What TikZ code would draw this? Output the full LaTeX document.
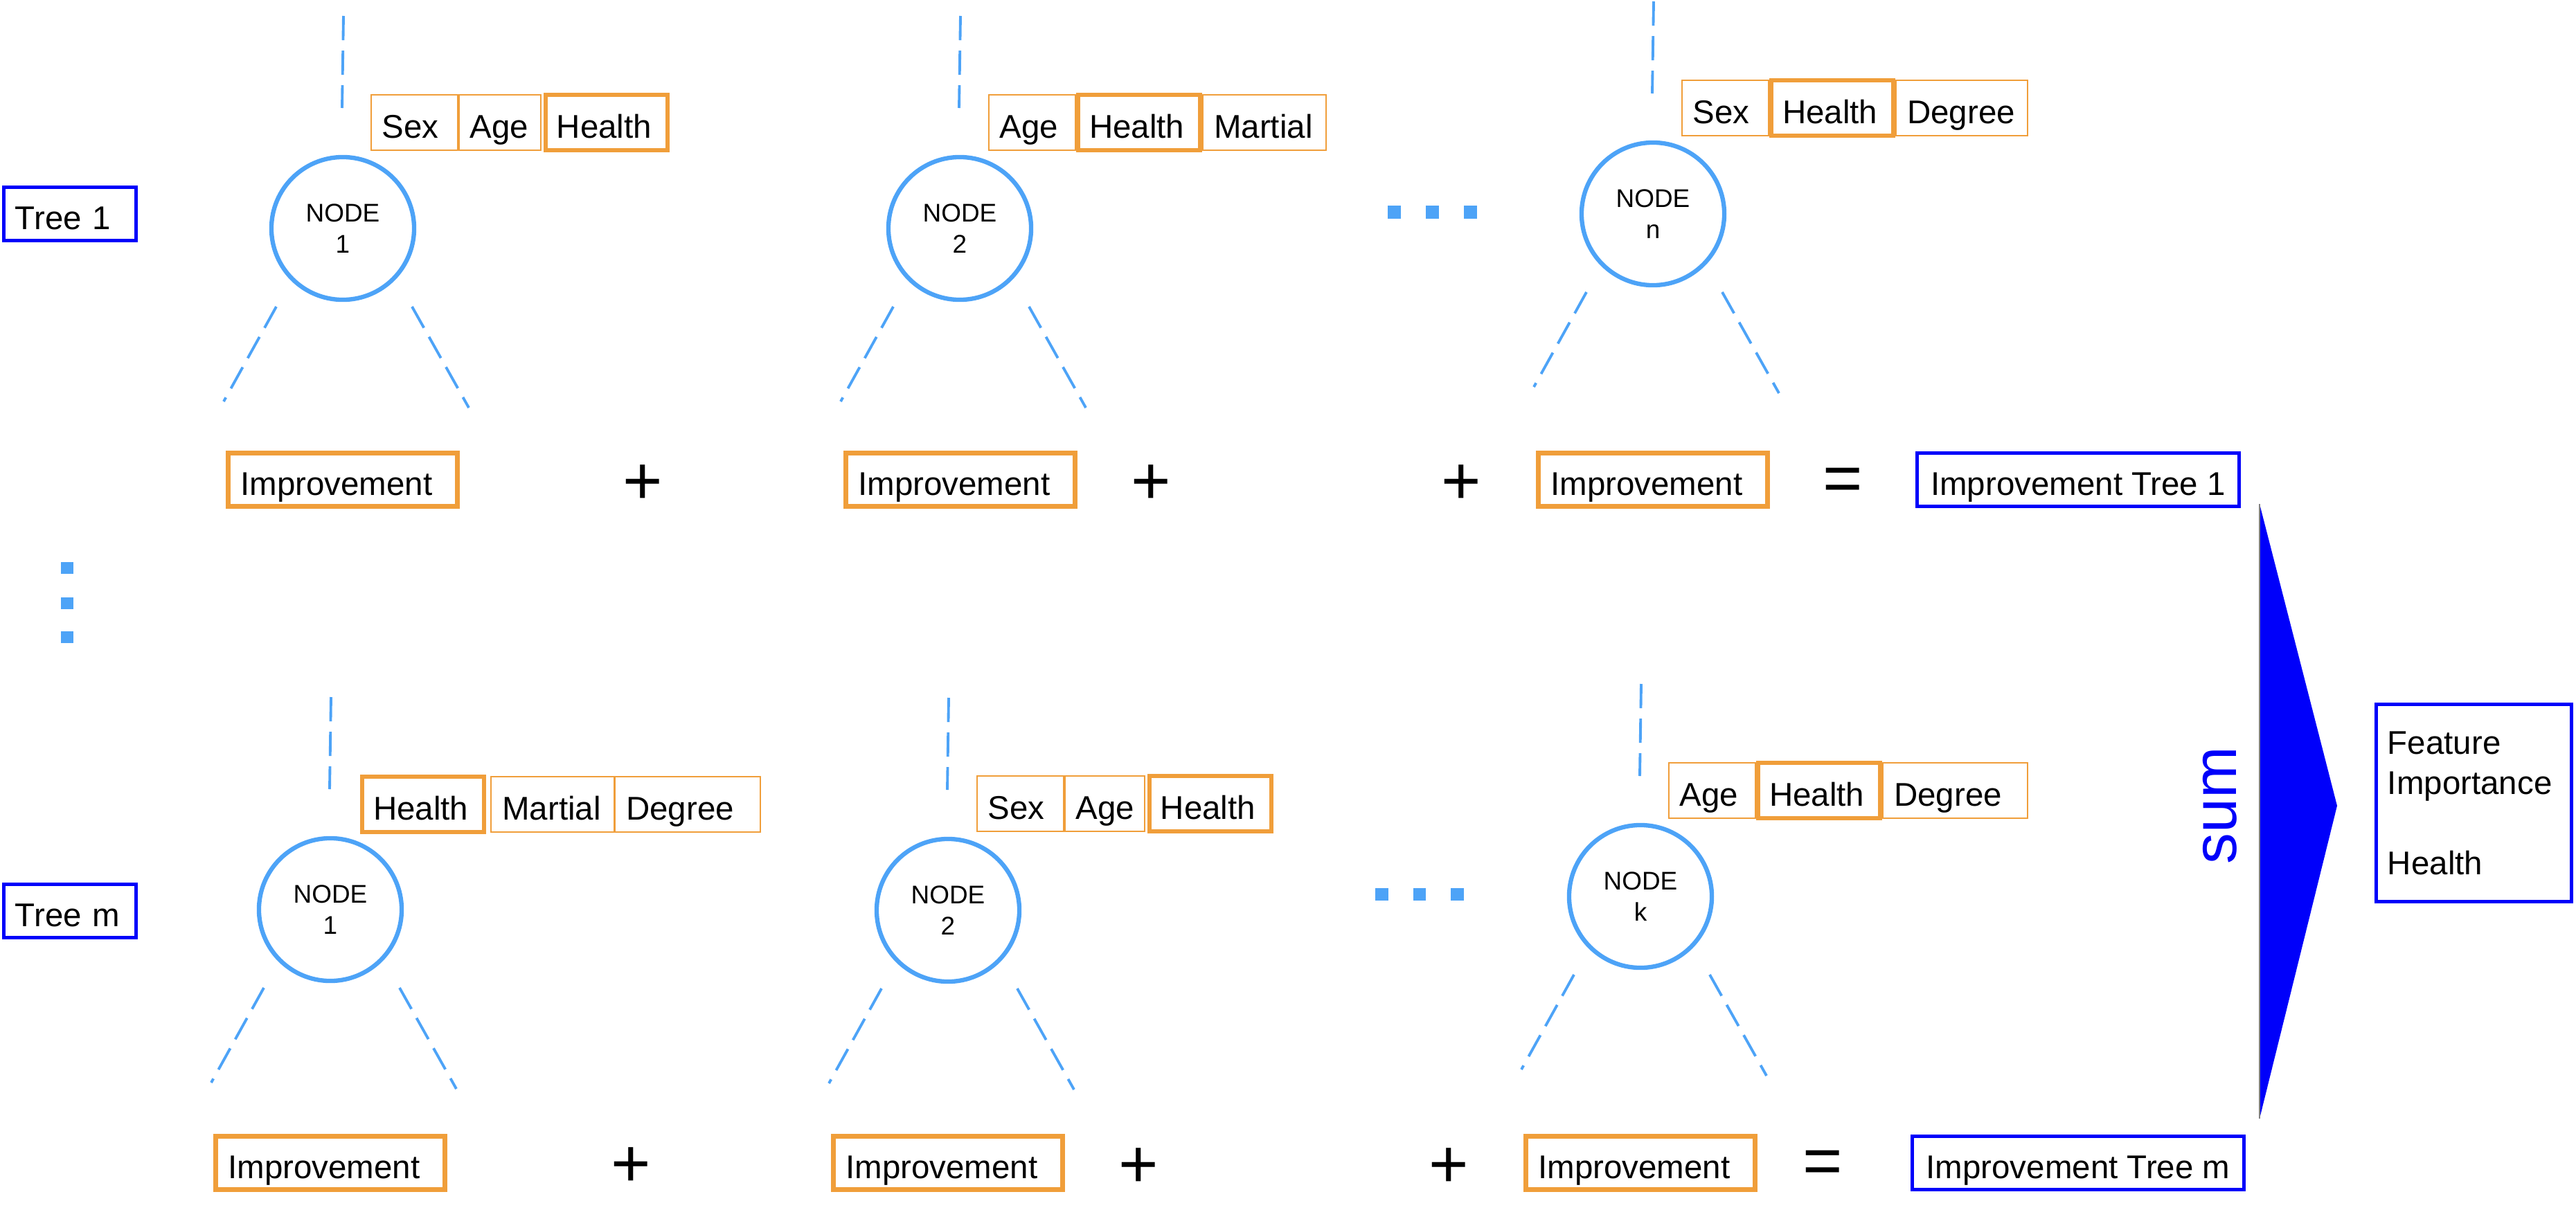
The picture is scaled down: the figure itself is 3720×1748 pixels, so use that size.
\documentclass[tikz,border=0pt]{standalone}
\usepackage{fontspec}
\setmainfont{Liberation Sans}
\usetikzlibrary{positioning}
\definecolor{treeblue}{RGB}{77,163,247}
\definecolor{featorange}{RGB}{240,158,58}
\definecolor{boxblue}{RGB}{0,0,250}
\tikzset{
  treenode/.style={circle, draw=treeblue, line width=1.8pt, minimum size=2.06cm,
    inner sep=0pt, align=center, font=\fontsize{10.5}{12.8}\selectfont},
  branch/.style={treeblue, line width=1.1pt, dash pattern=on 0.35cm off 0.15cm},
  word/.style={font=\fontsize{13.5}{16.5}\selectfont, text height=13pt, text depth=0pt},
  cell/.style={word, draw=featorange, line width=0.5pt, text width=#1, align=left,
    inner xsep=0.16cm, inner ysep=0pt, minimum height=0.8cm},
  pick/.style={cell=#1, line width=1.8pt},
  gain/.style={word, draw=featorange, line width=1.8pt, text width=2.95cm, align=left,
    inner xsep=0.18cm, inner ysep=0pt, minimum height=0.77cm},
  total/.style={word, draw=boxblue, line width=1.45pt, inner xsep=0.2cm,
    inner ysep=0pt, minimum height=0.77cm},
  tag/.style={word, draw=boxblue, line width=1.45pt, text width=1.58cm, align=left,
    inner xsep=0.165cm, inner ysep=0pt, minimum height=0.77cm},
  op/.style={font=\fontsize{28}{30}\selectfont, inner sep=0pt},
  more/.style={fill=treeblue, inner sep=0pt, minimum size=#1}
}
\begin{document}
\begin{tikzpicture}[x=0.01cm, y=-0.01cm]
	\useasboundingbox (0,0) rectangle (3720,1748);
	% tree 1
	\node[tag] (t1lab) at (101,309) {Tree 1};
	\node[treenode] (t1n1) at (495,330) {NODE\\1};
	\node[treenode] (t1n2) at (1386,330) {NODE\\2};
	\node[treenode] (t1nn) at (2387,309) {NODE\\n};
	\draw[branch] (t1n1.center) ++(1,-307) -- ++(-2,133);
	\draw[branch] (t1n1.center) ++(-96,113) -- ++(-76,137);
	\draw[branch] (t1n1.center) ++(100,113) -- ++(82,146);
	\draw[branch] (t1n2.center) ++(1,-307) -- ++(-2,133);
	\draw[branch] (t1n2.center) ++(-96,113) -- ++(-76,137);
	\draw[branch] (t1n2.center) ++(100,113) -- ++(82,146);
	\draw[branch] (t1nn.center) ++(1,-307) -- ++(-2,133);
	\draw[branch] (t1nn.center) ++(-96,113) -- ++(-76,137);
	\draw[branch] (t1nn.center) ++(100,113) -- ++(82,146);
	\node[cell=0.93cm, anchor=west] (t1n1a) at ([shift={(40,-153)}]t1n1.center) {Sex};
	\node[cell=0.86cm, right=0pt of t1n1a] (t1n1b) {Age};
	\node[pick=1.44cm, right=0.03cm of t1n1b] (t1n1c) {Health};
	\node[cell=0.93cm, anchor=west] (t1n2a) at ([shift={(41,-153)}]t1n2.center) {Age};
	\node[pick=1.44cm, right=0pt of t1n2a] (t1n2b) {Health};
	\node[cell=1.46cm, right=0pt of t1n2b] (t1n2c) {Martial};
	\node[cell=0.93cm, anchor=west] (t1nna) at ([shift={(41,-153)}]t1nn.center) {Sex};
	\node[pick=1.44cm, right=0pt of t1nna] (t1nnb) {Health};
	\node[cell=1.58cm, right=0pt of t1nnb] (t1nnc) {Degree};
	\node[more=0.19cm] (t1d1) at (2013.5,306.5) {};
	\node[more=0.19cm] (t1d2) at (2068,306.5) {};
	\node[more=0.19cm] (t1d3) at (2123.5,306.5) {};
	\node[gain] (t1i1) at (495,693) {Improvement};
	\node[gain] (t1i2) at (1387,693) {Improvement};
	\node[gain] (t1in) at (2387,693) {Improvement};
	\node[op] (t1p1) at (928,700) {+};
	\node[op] (t1p2) at (1662,700) {+};
	\node[op] (t1p3) at (2110,700) {+};
	\node[op] (t1eq) at (2661,700) {=};
	\node[total] (t1tot) at (3001,693) {Improvement Tree 1};
	% between the trees
	\node[more=0.17cm] (vd1) at (97,820.5) {};
	\node[more=0.17cm] (vd2) at (97,871) {};
	\node[more=0.17cm] (vd3) at (97,920.5) {};
	% tree m
	\node[tag] (tmlab) at (101,1316) {Tree m};
	\node[treenode] (tmn1) at (477,1314) {NODE\\1};
	\node[treenode] (tmn2) at (1369,1315) {NODE\\2};
	\node[treenode] (tmnk) at (2369,1295) {NODE\\k};
	\draw[branch] (tmn1.center) ++(1,-307) -- ++(-2,133);
	\draw[branch] (tmn1.center) ++(-96,113) -- ++(-76,137);
	\draw[branch] (tmn1.center) ++(100,113) -- ++(82,146);
	\draw[branch] (tmn2.center) ++(1,-307) -- ++(-2,133);
	\draw[branch] (tmn2.center) ++(-96,113) -- ++(-76,137);
	\draw[branch] (tmn2.center) ++(100,113) -- ++(82,146);
	\draw[branch] (tmnk.center) ++(1,-307) -- ++(-2,133);
	\draw[branch] (tmnk.center) ++(-96,113) -- ++(-76,137);
	\draw[branch] (tmnk.center) ++(100,113) -- ++(82,146);
	\node[pick=1.44cm, anchor=west] (tmn1a) at ([shift={(43,-152)}]tmn1.center) {Health};
	\node[cell=1.45cm, right=0.06cm of tmn1a] (tmn1b) {Martial};
	\node[cell=1.78cm, right=0pt of tmn1b] (tmn1c) {Degree};
	\node[cell=0.93cm, anchor=west] (tmn2a) at ([shift={(41,-154)}]tmn2.center) {Sex};
	\node[cell=0.83cm, right=0pt of tmn2a] (tmn2b) {Age};
	\node[pick=1.44cm, right=0.03cm of tmn2b] (tmn2c) {Health};
	\node[cell=0.93cm, anchor=west] (tmnka) at ([shift={(40,-153)}]tmnk.center) {Age};
	\node[pick=1.44cm, right=0pt of tmnka] (tmnkb) {Health};
	\node[cell=1.77cm, right=0pt of tmnkb] (tmnkc) {Degree};
	\node[more=0.185cm] (tmd1) at (1995.5,1292) {};
	\node[more=0.185cm] (tmd2) at (2050,1292) {};
	\node[more=0.185cm] (tmd3) at (2104.5,1292) {};
	\node[gain] (tmi1) at (477,1680) {Improvement};
	\node[gain] (tmi2) at (1369,1680) {Improvement};
	\node[gain] (tmik) at (2369,1680) {Improvement};
	\node[op] (tmp1) at (911,1686) {+};
	\node[op] (tmp2) at (1644,1687) {+};
	\node[op] (tmp3) at (2092,1687) {+};
	\node[op] (tmeq) at (2632,1686) {=};
	\node[total] (tmtot) at (3001,1680) {Improvement Tree m};
	% sum of all trees
	\fill[boxblue] (3263,728) -- (3375,1164) -- (3263,1616) -- cycle;
	\draw[gray, line width=0.4pt] (3263,728) -- (3263,1616);
	\node[rotate=90, text=boxblue, inner sep=0pt,
		font=\fontsize{25.5}{28}\selectfont] (sum) at (3205.5,1163.5) {sum};
	\node[draw=boxblue, line width=1.45pt, text width=2.49cm, align=left,
		inner xsep=0.165cm, minimum height=2.85cm,
		font=\fontsize{13.5}{16.5}\selectfont] (fi) at (3572.5,1160)
		{Feature\\Importance\\[16.5pt]Health};
\end{tikzpicture}
\end{document}
